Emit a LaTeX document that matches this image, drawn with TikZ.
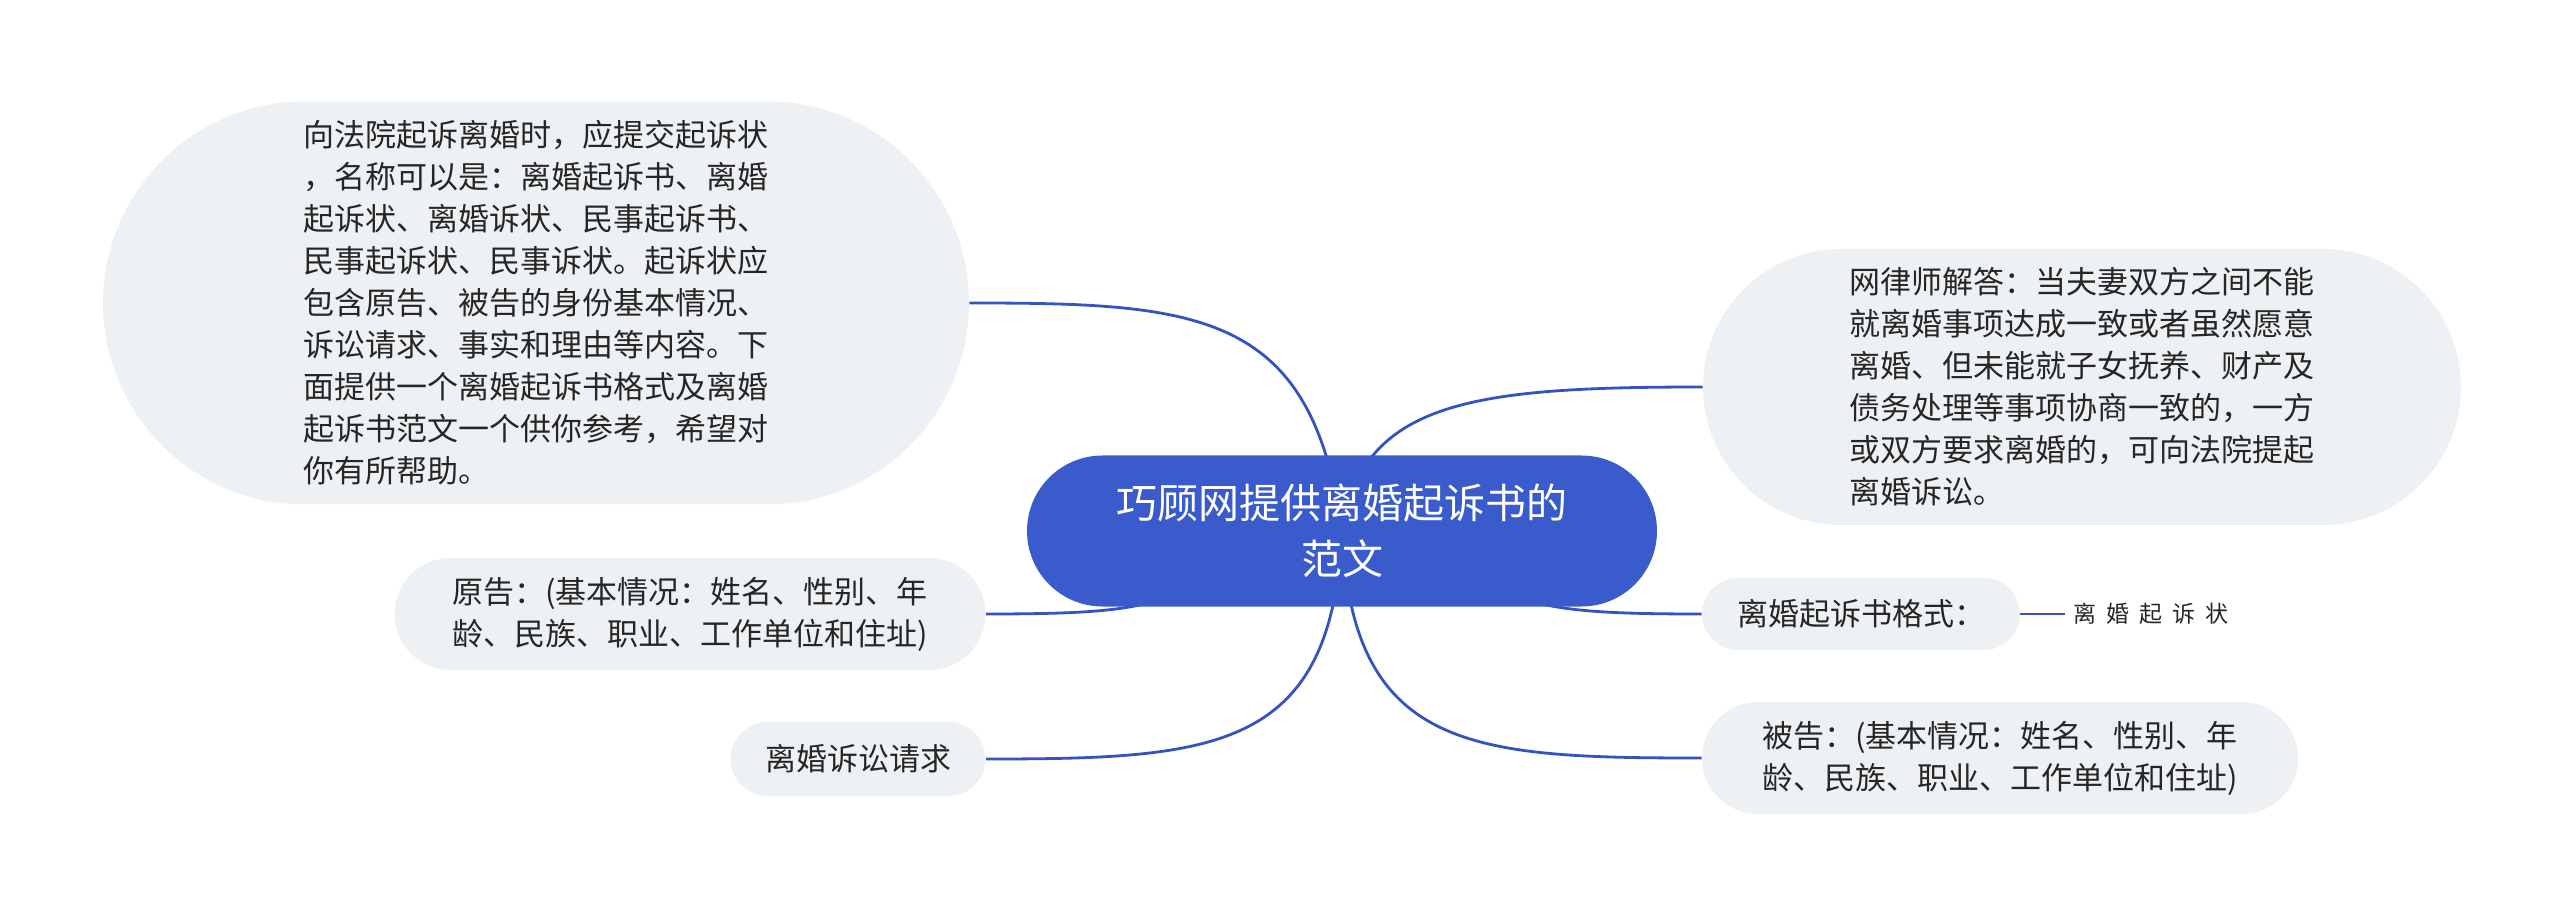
\documentclass[tikz,border=0pt]{standalone}
\usepackage{fontspec}
\setmainfont{Noto Sans CJK SC}
\usepackage{xcolor}
\usepackage{tikz}
\usetikzlibrary{positioning}
\usetikzlibrary{backgrounds}
\definecolor{rootblue}{HTML}{3A5BCC}
\definecolor{edgeblue}{HTML}{3553BF}
\definecolor{topicgrey}{HTML}{EEF1F4}
\definecolor{textgrey}{HTML}{262626}
\newcommand{\leaffont}{\fontsize{11.5}{14}\selectfont\spaceskip 5pt\relax}
\tikzstyle{root} = [rectangle, fill=rootblue, text=white, align=center,
    inner sep=0pt, minimum width=315pt, minimum height=75.5pt,
    rounded corners=37.75pt, font=\fontsize{20.5}{28}\selectfont]
\tikzstyle{topic} = [rectangle, fill=topicgrey, text=textgrey, align=left,
    inner sep=0pt, font=\fontsize{15.5}{21}\selectfont]
\tikzstyle{leaf} = [text=textgrey, inner sep=4pt, font=\leaffont]
\tikzstyle{branch} = [draw=edgeblue, line width=1.4pt]

\begin{document}
\begin{tikzpicture}[x=0.5pt, y=-0.5pt]
  \useasboundingbox (0,0) rectangle (2560,914);
  % Place nodes
  \node [root] (root) at (1342,531) {巧顾网提供离婚起诉书的\\范文};

  \node [topic, left of=root, node distance=403pt, yshift=114pt,
         minimum width=433pt, minimum height=201.5pt, rounded corners=100.75pt] (intro) {
    向法院起诉离婚时，应提交起诉状\\
    ，名称可以是：离婚起诉书、离婚\\
    起诉状、离婚诉状、民事起诉书、\\
    民事起诉状、民事诉状。起诉状应\\
    包含原告、被告的身份基本情况、\\
    诉讼请求、事实和理由等内容。下\\
    面提供一个离婚起诉书格式及离婚\\
    起诉书范文一个供你参考，希望对\\
    你有所帮助。};
  \node [topic, left of=root, node distance=326pt, yshift=-41.5pt,
         minimum width=295.5pt, minimum height=56pt, rounded corners=28pt] (plaintiff) {
    原告：(基本情况：姓名、性别、年\\
    龄、民族、职业、工作单位和住址)};
  \node [topic, left of=root, node distance=242pt, yshift=-114pt,
         minimum width=127.5pt, minimum height=37pt, rounded corners=18.5pt] (claim) {离婚诉讼请求};

  \node [topic, right of=root, node distance=370pt, yshift=72pt,
         minimum width=379pt, minimum height=138pt, rounded corners=69pt] (answer) {
    网律师解答：当夫妻双方之间不能\\
    就离婚事项达成一致或者虽然愿意\\
    离婚、但未能就子女抚养、财产及\\
    债务处理等事项协商一致的，一方\\
    或双方要求离婚的，可向法院提起\\
    离婚诉讼。};
  \node [topic, right of=root, node distance=259.5pt, yshift=-41.5pt,
         minimum width=159pt, minimum height=36pt, rounded corners=18pt] (format) {离婚起诉书格式：};
  \node [leaf, right=22.5pt of format] (sample) {离 婚 起 诉 状};
  \node [topic, right of=root, node distance=329pt, yshift=-113.5pt,
         minimum width=298pt, minimum height=56pt, rounded corners=28pt] (defendant) {
    被告：(基本情况：姓名、性别、年\\
    龄、民族、职业、工作单位和住址)};

  % Branches
  \begin{scope}[on background layer]
    \path [branch] (root.center) .. controls +(-30,-220) and +(230,0) .. (intro.east);
    \path [branch] (root.center) .. controls +(-200,70) and +(200,0) .. (plaintiff.east);
    \path [branch] (root.center) .. controls +(-10,220) and +(230,0) .. (claim.east);
    \path [branch] (root.center) .. controls +(20,-130) and +(-230,0) .. (answer.west);
    \path [branch] (root.center) .. controls +(200,70) and +(-200,0) .. (format.west);
    \path [branch] (root.center) .. controls +(10,220) and +(-230,0) .. (defendant.west);
    \path [branch] (format.east) -- (sample.west);
  \end{scope}
\end{tikzpicture}
\end{document}
